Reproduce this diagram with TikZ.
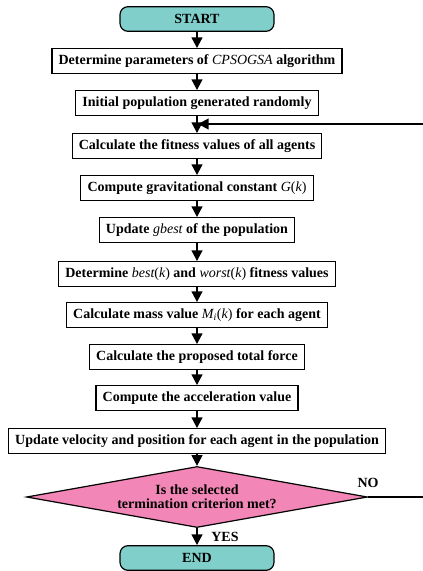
\documentclass[tikz,border=0pt]{standalone}
\usepackage{fontspec}
\setmainfont{Liberation Serif}
\usetikzlibrary{shapes.geometric,arrows.meta}
\definecolor{tealfill}{HTML}{80CFCB}
\definecolor{pinkfill}{HTML}{F286B6}
\newcommand\itm[1]{{\mdseries\itshape #1}}
\begin{document}
\begin{tikzpicture}[x=0.75pt,y=-0.75pt,
  txt/.style={font=\fontsize{10.5}{12.6}\selectfont\bfseries},
  box/.style={txt, draw=black, line width=0.9pt, fill=white, minimum height=18.5pt, inner xsep=5pt, inner ysep=0pt},
  term/.style={box, fill=tealfill, rounded corners=6pt, minimum width=115.5pt},
  arr/.style={line width=1.5pt, -{Triangle[length=8pt,width=8pt]}}]
\useasboundingbox (0,0) rectangle (423,571);
\node[term] (start) at (197,19) {START};
\node[box] (b1) at (197,61) {Determine parameters of \itm{CPSOGSA} algorithm};
\node[box] (b2) at (197,103) {Initial population generated randomly};
\node[box] (b3) at (197,146) {Calculate the fitness values of all agents};
\node[box] (b4) at (197,188) {Compute gravitational constant \itm{G}{\mdseries(}\itm{k}{\mdseries)}};
\node[box] (b5) at (197,230) {Update \itm{gbest} of the population};
\node[box] (b6) at (197,274) {Determine \itm{best}{\mdseries(}\itm{k}{\mdseries)} and \itm{worst}{\mdseries(}\itm{k}{\mdseries)} fitness values};
\node[box] (b7) at (197,315) {Calculate mass value \itm{M}\textsubscript{\itm{i}}{\mdseries(}\itm{k}{\mdseries)} for each agent};
\node[box] (b8) at (197,357) {Calculate the proposed total force};
\node[box] (b9) at (197,398) {Compute the acceleration value};
\node[box] (b10) at (197,441) {Update velocity and position for each agent in the population};
\node[diamond, draw=black, line width=0.9pt, fill=pinkfill, aspect=5.6,
  minimum width=255.75pt, minimum height=45.75pt, inner sep=0pt, align=center,
  font=\fontsize{10.5}{10.5}\selectfont\bfseries] (dec) at (197,497) {Is the selected\\termination criterion met?};
\node[term] (end) at (197,558) {END};
\node[txt] (yes) at (225,537) {YES};
\node[txt] (no) at (368,483) {NO};
\coordinate (j) at (198,124);
\coordinate (r1) at (430,497);
\coordinate (r2) at (430,124);
\draw[arr] (start) -- (b1);
\draw[arr] (b1) -- (b2);
\draw[arr] (b2) -- (b3);
\draw[arr] (b3) -- (b4);
\draw[arr] (b4) -- (b5);
\draw[arr] (b5) -- (b6);
\draw[arr] (b6) -- (b7);
\draw[arr] (b7) -- (b8);
\draw[arr] (b8) -- (b9);
\draw[arr] (b9) -- (b10);
\draw[arr] (b10) -- (dec);
\draw[arr] (dec) -- (end);
\draw[arr] (dec.east) -- (r1) -- (r2) -- (j);
\end{tikzpicture}
\end{document}
